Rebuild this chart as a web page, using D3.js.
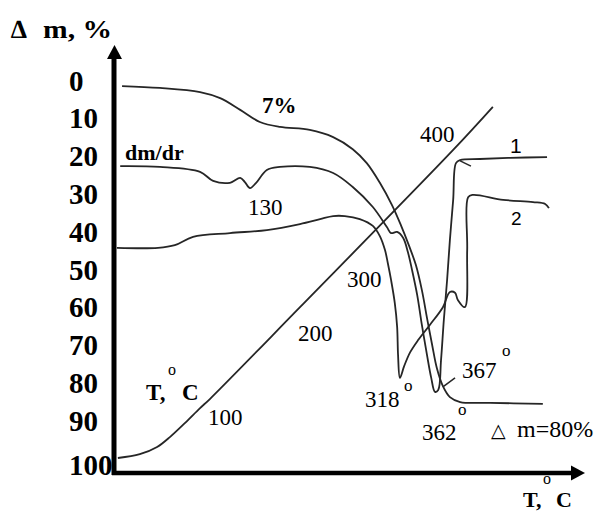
<!DOCTYPE html>
<html><head><meta charset="utf-8">
<script src="https://cdn.jsdelivr.net/npm/d3@7"></script>
<style>html,body{margin:0;padding:0;background:#fff;}svg{display:block}</style>
</head><body>
<script>
// ---- data (x: heating time, arbitrary 0-100; y: mass loss Δm, %) ----
const yTicks = [0,10,20,30,40,50,60,70,80,90,100];
const yTickLabels = ["0","10","20","30","40","50","60","70","80","90","100"];
const tempLabels = ["100","200","300","400"];
const peakLabels = ["130","318","362","367"];
const curveLabels = ["1","2"];

const tgCurve = [[1.3,1.6],[9.4,2.1],[18.0,3.2],[22.3,4.8],[26.6,7.9],[30.8,11.1],[35.1,12.4],[41.5,13.2],[46.5,15.1],[50.7,18.3],[53.7,22.0],[56.5,27.2],[59.1,33.1],[61.0,38.4],[62.7,43.7],[64.2,48.9],[65.5,55.6],[66.6,63.0],[67.7,70.1],[68.7,76.2],[70.0,81.0],[71.5,83.9],[73.7,85.2],[80.1,85.4],[91.4,85.7]];

const dtgCurve = [[0.9,22.8],[9.4,23.0],[18.0,24.3],[20.8,26.7],[24.4,27.2],[26.6,25.9],[27.6,27.0],[28.7,28.6],[30.0,27.2],[32.3,23.8],[35.1,23.0],[41.5,23.0],[46.5,24.6],[50.7,28.3],[55.0,33.6],[58.0,38.9],[58.9,40.5],[60.2,40.2],[61.5,41.8],[62.5,45.5],[63.4,50.3],[64.5,56.9],[65.5,64.8],[66.6,72.8],[67.5,78.8],[68.3,82.5],[69.0,82.0],[69.6,74.1],[70.2,63.5],[70.9,52.9],[71.5,42.3],[72.2,31.7],[72.8,22.0],[73.7,21.2],[77.9,20.9],[84.4,20.6],[92.3,20.4]];

const dtaCurve = [[0.2,44.4],[9.0,44.4],[12.6,43.7],[16.5,41.5],[24.4,40.5],[32.3,39.7],[39.4,38.1],[43.7,36.8],[46.5,36.0],[49.0,36.0],[52.2,36.8],[55.0,38.6],[56.5,41.3],[57.6,45.0],[58.2,48.4],[58.9,52.9],[59.7,59.0],[60.2,65.3],[60.4,72.8],[60.8,78.8],[61.7,75.7],[63.0,72.0],[64.7,68.8],[67.2,64.8],[70.0,60.1],[71.5,56.1],[72.6,56.3],[73.2,58.2],[74.7,60.1],[75.2,45.0],[75.4,31.0],[76.4,30.4],[82.9,31.7],[89.3,32.3],[91.9,32.8],[92.7,33.9]];

const tempCurve = [[0.4,100],[5.1,99.0],[8.8,97.1],[11.6,94.4],[14.8,90.7],[18.0,86.8],[20.1,84.4],[39.4,60.1],[72.2,18.5],[80.7,7.1]];

const arrowMark = [[73.7,21.4],[76.0,22.8]];
const leader367 = [[70.0,81.2],[72.6,78.8]];

// ---- drawing ----
const W = 598, H = 514;
const svg = d3.select("body").append("svg").attr("width", W).attr("height", H);
const x = d3.scaleLinear().domain([0,100]).range([116,583]);
const y = d3.scaleLinear().domain([0,100]).range([80,458]);

const INK = "#262626";
const SERIF = "'Liberation Serif','Times New Roman',serif";
const SANS = "'Liberation Sans',Arial,sans-serif";

const line = d3.line().x(d => x(d[0])).y(d => y(d[1])).curve(d3.curveCatmullRom.alpha(0.5));
const straight = d3.line().x(d => x(d[0])).y(d => y(d[1]));

[tgCurve, dtgCurve, dtaCurve, tempCurve].forEach(s => {
  svg.append("path").attr("d", line(s)).attr("fill","none")
    .attr("stroke", INK).attr("stroke-width", 1.8).attr("stroke-linejoin","round");
});
[arrowMark, leader367].forEach(s => {
  svg.append("path").attr("d", straight(s)).attr("fill","none")
    .attr("stroke", INK).attr("stroke-width", 1.5);
});

// axes lines with arrows
const ax = svg.append("g");
ax.append("line").attr("x1",114).attr("x2",114).attr("y1",475).attr("y2",56)
  .attr("stroke","#000").attr("stroke-width",5);
ax.append("path").attr("d","M114.5,45 L107,59 L122,59 Z").attr("fill","#000");
ax.append("line").attr("x1",112).attr("x2",573).attr("y1",473).attr("y2",473)
  .attr("stroke","#000").attr("stroke-width",4.5);
ax.append("path").attr("d","M585,473 L571,465.5 L571,480.5 Z").attr("fill","#000");

// y axis tick labels
const gy = svg.append("g").attr("transform","translate(116,0)")
  .call(d3.axisLeft(y).tickValues(yTicks).tickFormat((d,i) => yTickLabels[i]).tickSize(0));
gy.select(".domain").remove();
gy.selectAll("text")
  .attr("x", -47).attr("text-anchor","start")
  .attr("dy", d => d === 100 ? "0.56em" : "0.35em")
  .style("font-family", SERIF).style("font-weight","bold").style("font-size","29px").style("fill","#000");

function txt(px, py, s, size, weight, fam, extra) {
  const t = svg.append("text").attr("x",px).attr("y",py).text(s)
    .style("font-family", fam || SERIF).style("font-size", size + "px")
    .style("font-weight", weight || "normal").style("fill","#000");
  if (extra) extra(t);
  return t;
}

// title
txt(11, 38, "\u2206", 26, "bold");
txt(43, 38, "m, %", 26, "bold", SERIF, t => t.attr("textLength",69).attr("lengthAdjust","spacingAndGlyphs"));

// curve annotations
txt(125, 160, "dm/dr", 22, "bold");
txt(262, 113, "7%", 23, "bold");
txt(248, 215, peakLabels[0], 23, "normal");

// temperature tick labels along the T line
txt(208, 425, tempLabels[0], 23, "normal");
txt(298, 341, tempLabels[1], 23, "normal");
txt(347, 287, tempLabels[2], 23, "normal");
txt(420, 142, tempLabels[3], 23, "normal");

// peak labels
txt(365, 407, peakLabels[1], 23, "normal");
txt(404, 391, "o", 17, "normal");
txt(422, 440, peakLabels[2], 23, "normal");
txt(458, 415, "o", 17, "normal");
txt(462, 378, peakLabels[3], 23, "normal");
txt(502, 356, "o", 17, "normal");

// curve numbers
txt(510, 153, curveLabels[0], 21, "normal", SANS);
txt(511, 225, curveLabels[1], 19, "normal", SANS);

// Δm=80%
txt(491, 437, "\u25B3", 19, "normal", "'DejaVu Sans',sans-serif");
txt(517, 437, "m=80%", 24, "normal");

// T, °C labels
txt(146, 400, "T,", 23, "bold");
txt(168, 375, "o", 16, "normal");
txt(182, 400, "C", 23, "bold");
txt(523, 507, "T,", 22, "bold");
txt(543, 484, "o", 16, "normal");
txt(556, 507, "C", 22, "bold");
</script>
</body></html>
